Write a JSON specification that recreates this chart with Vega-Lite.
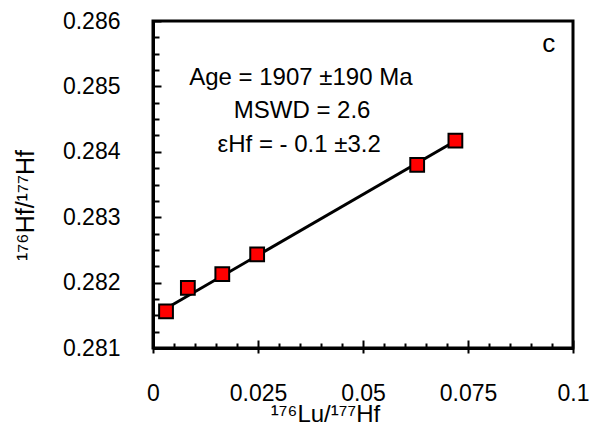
{
  "$schema": "https://vega.github.io/schema/vega-lite/v6.json",
  "autosize": {"type": "none"},
  "padding": {"left": 153, "top": 21, "right": 17, "bottom": 79},
  "width": 420,
  "height": 327,
  "background": "white",
  "config": {
    "view": {"stroke": "black", "strokeWidth": 3},
    "font": "Liberation Sans",
    "axis": {"grid": false, "domainColor": "black", "domainWidth": 3, "tickColor": "black", "tickWidth": 2, "labelColor": "black", "titleColor": "black", "labelFont": "Liberation Sans", "titleFont": "Liberation Sans", "titleFontWeight": "normal"}
  },
  "datasets": {
    "points": [
      {"lu": 0.0031, "hf": 0.28156},
      {"lu": 0.0083, "hf": 0.28192},
      {"lu": 0.0165, "hf": 0.28213},
      {"lu": 0.0248, "hf": 0.28243},
      {"lu": 0.0629, "hf": 0.28380},
      {"lu": 0.0720, "hf": 0.28417}
    ],
    "fit": [
      {"lu": 0.0031, "hf": 0.281605},
      {"lu": 0.0727, "hf": 0.284191}
    ],
    "notes": [
      {"lu": 0.0352, "hf": 0.28502, "label": "Age = 1907 ±190 Ma", "size": 24},
      {"lu": 0.0355, "hf": 0.284517, "label": "MSWD = 2.6", "size": 24},
      {"lu": 0.0348, "hf": 0.283997, "label": "εHf = - 0.1 ±3.2", "size": 24},
      {"lu": 0.0942, "hf": 0.285526, "label": "c", "size": 26}
    ]
  },
  "resolve": {"axis": {"x": "independent", "y": "independent"}},
  "layer": [
    {
      "data": {"name": "fit"},
      "mark": {"type": "line", "color": "black", "strokeWidth": 3},
      "encoding": {
        "x": {"field": "lu", "type": "quantitative", "scale": {"domain": [0, 0.1], "nice": false, "zero": false},
          "axis": {"orient": "bottom", "values": [0, 0.025, 0.05, 0.075, 0.1], "format": ".3~f", "tickSize": 5, "labelPadding": 29, "labelFontSize": 23, "labelFlush": false, "labelOverlap": false,
            "title": "¹⁷⁶Lu/¹⁷⁷Hf", "titleFontSize": 24, "titleX": 172, "titleY": 73, "titleBaseline": "alphabetic", "titleAnchor": "start", "titleAlign": "center"}},
        "y": {"field": "hf", "type": "quantitative", "scale": {"domain": [0.281, 0.286], "nice": false, "zero": false},
          "axis": {"orient": "left", "values": [0.281, 0.282, 0.283, 0.284, 0.285, 0.286], "format": ".3f", "tickSize": 0, "ticks": false, "labelPadding": 33, "labelFontSize": 23, "labelFlush": false, "labelOverlap": false,
            "title": "¹⁷⁶Hf/¹⁷⁷Hf", "titleFontSize": 25, "titleX": -128, "titleY": 184, "titleBaseline": "middle", "titleAlign": "center", "titleAngle": -90}}
      }
    },
    {
      "data": {"name": "points"},
      "mark": {"type": "point", "shape": "square", "filled": true, "fill": "#ff0000", "stroke": "black", "strokeWidth": 2, "size": 190, "opacity": 1},
      "encoding": {
        "x": {"field": "lu", "type": "quantitative",
          "axis": {"orient": "bottom", "values": [0, 0.025, 0.05, 0.075, 0.1], "tickSize": -8, "labels": false, "title": null, "domain": false}},
        "y": {"field": "hf", "type": "quantitative",
          "axis": {"orient": "left", "values": [0.281, 0.282, 0.283, 0.284, 0.285, 0.286], "tickSize": -8, "labels": false, "title": null, "domain": false}}
      }
    },
    {
      "data": {"name": "notes"},
      "mark": {"type": "text", "color": "black", "align": "center", "baseline": "alphabetic", "font": "Liberation Sans"},
      "encoding": {
        "x": {"field": "lu", "type": "quantitative",
          "axis": {"orient": "bottom", "values": [0.005, 0.01, 0.015, 0.02, 0.03, 0.035, 0.04, 0.045, 0.055, 0.06, 0.065, 0.07, 0.08, 0.085, 0.09, 0.095], "tickSize": -5, "labels": false, "title": null, "domain": false}},
        "y": {"field": "hf", "type": "quantitative",
          "axis": {"orient": "left", "values": [0.28125, 0.2815, 0.28175, 0.28225, 0.2825, 0.28275, 0.28325, 0.2835, 0.28375, 0.28425, 0.2845, 0.28475, 0.28525, 0.2855, 0.28575], "tickSize": -6, "labels": false, "title": null, "domain": false}},
        "text": {"field": "label"},
        "size": {"field": "size", "type": "quantitative", "scale": null}
      }
    }
  ]
}
